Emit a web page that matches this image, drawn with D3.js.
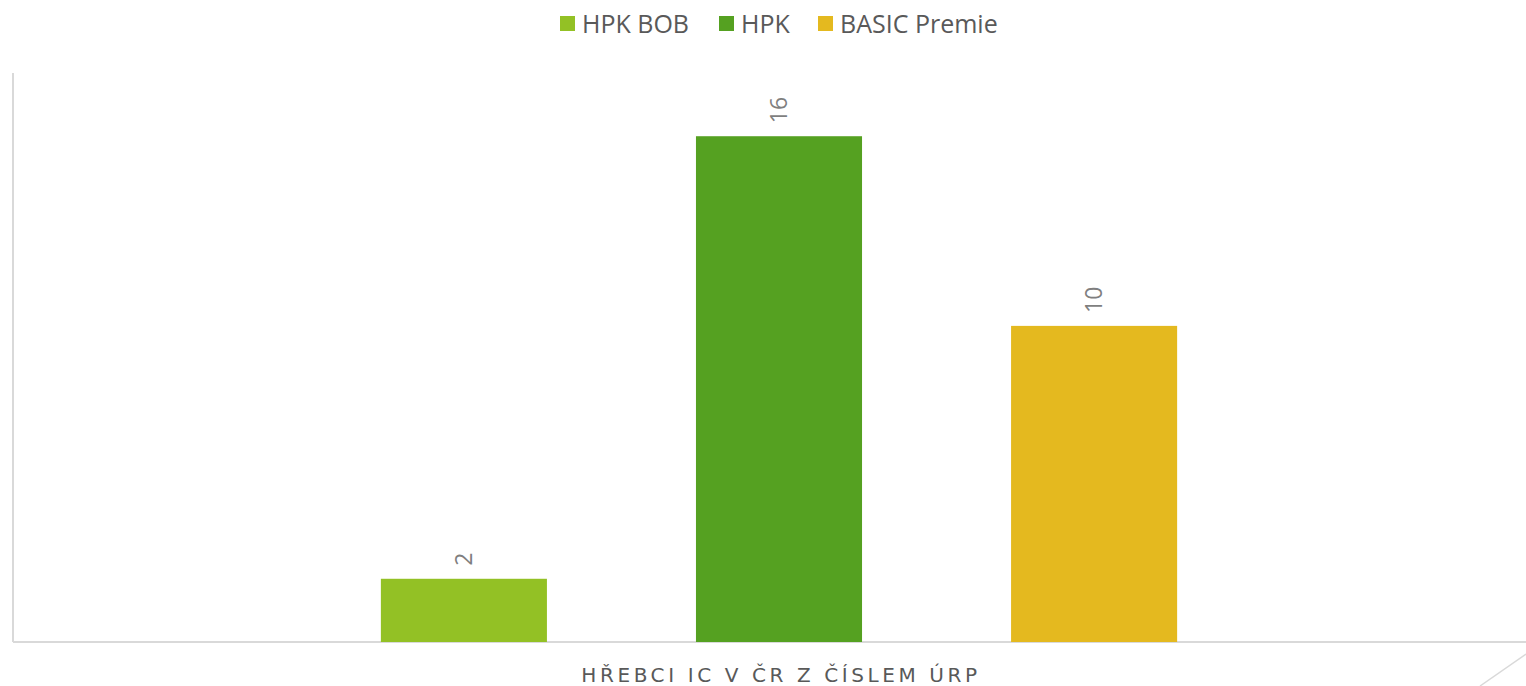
<!DOCTYPE html>
<html lang="cs">
<head>
    <meta charset="UTF-8">
    <title>Hřebci IC v ČR z číslem ÚRP</title>
    <style>
        body { margin: 0; background: #fff; }
        svg { display: block; }
    </style>
    <script src="https://d3js.org/d3.v7.min.js"></script>
</head>
<body>
    <script>
        const categories = ["HŘEBCI IC V ČR Z ČÍSLEM ÚRP"];
        const series = ["HPK BOB", "HPK", "BASIC Premie"];
        const values = [2, 16, 10];
        const colors = ["#93c125", "#55a121", "#e4b91f"];

        const W = 1526, H = 686;
        const PLOT_LEFT = 13, PLOT_RIGHT = 1545, PLOT_TOP = 73, PLOT_BOTTOM = 642;

        const svg = d3.select("body").append("svg")
            .attr("width", W)
            .attr("height", H);

        const x0 = d3.scaleBand()
            .domain(categories)
            .range([PLOT_LEFT, PLOT_RIGHT])
            .padding(0.316);

        const x1 = d3.scaleBand()
            .domain(series)
            .range([0, x0.bandwidth()])
            .paddingInner(0.473);

        const y = d3.scaleLinear()
            .domain([0, 18])
            .range([PLOT_BOTTOM, PLOT_TOP]);

        // axis lines
        svg.append("line")
            .attr("x1", PLOT_LEFT).attr("x2", PLOT_LEFT)
            .attr("y1", PLOT_TOP).attr("y2", PLOT_BOTTOM)
            .attr("stroke", "#d9d9d9").attr("stroke-width", 2);
        svg.append("line")
            .attr("x1", PLOT_LEFT).attr("x2", W)
            .attr("y1", PLOT_BOTTOM).attr("y2", PLOT_BOTTOM)
            .attr("stroke", "#d9d9d9").attr("stroke-width", 2);
        // corner decoration
        svg.append("line")
            .attr("x1", 1480).attr("y1", 686)
            .attr("x2", 1526).attr("y2", 654)
            .attr("stroke", "#d9d9d9").attr("stroke-width", 1.5);

        const g = svg.append("g")
            .selectAll("g")
            .data(categories)
            .join("g")
            .attr("transform", d => `translate(${x0(d)},0)`);

        const rows = series.map((s, i) => ({ name: s, value: values[i], color: colors[i] }));

        g.selectAll("rect")
            .data(rows)
            .join("rect")
            .attr("x", d => x1(d.name))
            .attr("y", d => y(d.value))
            .attr("width", x1.bandwidth())
            .attr("height", d => y(0) - y(d.value))
            .attr("fill", d => d.color);

        g.selectAll("text.val")
            .data(rows)
            .join("text")
            .attr("class", "val")
            .attr("transform", d => `translate(${x1(d.name) + x1.bandwidth() / 2 + 8},${y(d.value) - 13}) rotate(-90)`)
            .attr("font-family", "Open Sans, sans-serif")
            .attr("font-size", 23)
            .attr("fill", "#7f7f7f")
            .text(d => d.value);

        // category label
        svg.selectAll("text.cat")
            .data(categories)
            .join("text")
            .attr("class", "cat")
            .attr("x", d => x0(d) + x0.bandwidth() / 2 + 2)
            .attr("y", 682)
            .attr("text-anchor", "middle")
            .attr("font-family", "DejaVu Sans, sans-serif")
            .attr("font-size", 20)
            .attr("letter-spacing", 3.6)
            .attr("fill", "#595959")
            .text(d => d);

        // legend
        const legendX = [560, 719, 818];
        const legend = svg.append("g")
            .selectAll("g")
            .data(rows)
            .join("g")
            .attr("transform", (d, i) => `translate(${legendX[i]},0)`);
        legend.append("rect")
            .attr("x", 0).attr("y", 16)
            .attr("width", 15).attr("height", 15)
            .attr("fill", d => d.color);
        legend.append("text")
            .attr("x", 22).attr("y", 33)
            .attr("font-family", "Open Sans, sans-serif")
            .attr("font-size", 25)
            .attr("fill", "#595959")
            .text(d => d.name);
    </script>
</body>
</html>
